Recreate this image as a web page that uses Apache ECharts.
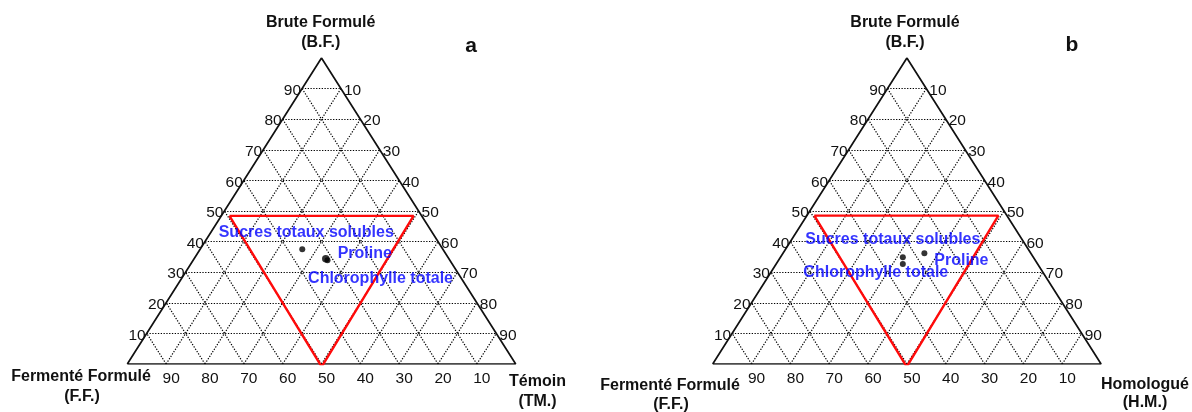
<!DOCTYPE html>
<html>
<head>
<meta charset="utf-8">
<script src="https://cdn.jsdelivr.net/npm/echarts@6/dist/echarts.min.js"></script>
<style>
  html, body { margin: 0; padding: 0; background: #fff; }
  #chart { width: 1192px; height: 412px; }
</style>
</head>
<body>
<div id="chart"></div>
<script>
// Ternary compositions are written as [F.F., B.F., third component] in percent.
const tickValues = [10, 20, 30, 40, 50, 60, 70, 80, 90];
const pointNames = ['Sucres totaux solubles', 'Proline', 'Chlorophylle totale'];

// Panel a: Fermenté Formulé / Brute Formulé / Témoin
const panelATitle = 'a';
const panelAAxes = { top: ['Brute Formulé', '(B.F.)'], left: ['Fermenté Formulé', '(F.F.)'], right: ['Témoin', '(TM.)'] };
const panelAPoints = [[36.2, 37.5, 26.3], [31.7, 34.4, 33.9], [31.5, 33.9, 34.6]];
const panelAZone = [[49.5, 48.4, 2.1], [2.1, 48.4, 49.5], [50.4, -0.9, 50.5]];

// Panel b: Fermenté Formulé / Brute Formulé / Homologué
const panelBTitle = 'b';
const panelBAxes = { top: ['Brute Formulé', '(B.F.)'], left: ['Fermenté Formulé', '(F.F.)'], right: ['Homologué', '(H.M.)'] };
const panelBPoints = [[33.6, 34.9, 31.5], [27.4, 36.2, 36.4], [34.7, 32.7, 32.6]];
const panelBZone = [[49.6, 48.5, 1.9], [2.2, 48.5, 49.3], [50.5, -0.9, 50.4]];

// ---- helpers --------------------------------------------------------------
const FONT = '"Liberation Sans", Arial, sans-serif';

// ternary [F, B, T] -> cartesian [x, y] in the unit frame of the grid
function toXY(c) {
  const s = c[0] + c[1] + c[2];
  const b = c[1] / s, t = c[2] / s;
  return [t + b / 2, b];
}

function gridSegments() {
  const segs = [];
  tickValues.forEach(k => {
    // constant B.F.
    segs.push([toXY([100 - k, k, 0]), toXY([0, k, 100 - k])]);
    // constant third component (parallel to the left edge)
    segs.push([toXY([100 - k, 0, k]), toXY([0, 100 - k, k])]);
    // constant F.F. (parallel to the right edge)
    segs.push([toXY([k, 0, 100 - k]), toXY([k, 100 - k, 0])]);
  });
  return segs.map(s => ({ coords: s }));
}

function tickLabels() {
  const out = [];
  tickValues.forEach(k => {
    out.push({ pos: toXY([100 - k, k, 0]), text: String(k), side: 'left' });   // B.F. along left edge
    out.push({ pos: toXY([0, 100 - k, k]), text: String(k), side: 'right' });  // third component along right edge
    out.push({ pos: toXY([k, 0, 100 - k]), text: String(k), side: 'base' });   // F.F. along the base
  });
  return out;
}

const labelOffsets = {
  a: { 'Sucres totaux solubles': [4, -17], 'Proline': [39, -5], 'Chlorophylle totale': [53, 18] },
  b: { 'Sucres totaux solubles': [-10, -18], 'Proline': [37, 7], 'Chlorophylle totale': [-27, 9] }
};
const dotSizes = { a: [6, 7.5, 6], b: [6, 6, 6] };

function panelSeries(idx, key, points, zone) {
  const ticks = tickLabels();
  const outline = [toXY([100, 0, 0]), toXY([0, 100, 0]), toXY([0, 0, 100]), toXY([100, 0, 0])];
  const zoneXY = zone.map(toXY);
  zoneXY.push(zoneXY[0]);
  return [
    {
      type: 'lines', coordinateSystem: 'cartesian2d', xAxisIndex: idx, yAxisIndex: idx,
      silent: true, z: 1,
      lineStyle: { color: '#000', width: 1.2, type: [1.3, 1.5], opacity: 1 },
      data: gridSegments()
    },
    {
      type: 'line', xAxisIndex: idx, yAxisIndex: idx, showSymbol: false, silent: true, z: 2,
      lineStyle: { color: '#111', width: 1.7 },
      data: outline
    },
    {
      type: 'line', xAxisIndex: idx, yAxisIndex: idx, showSymbol: false, silent: true, z: 3,
      lineStyle: { color: '#ff0a0a', width: 2.4 },
      data: zoneXY
    },
    {
      type: 'custom', xAxisIndex: idx, yAxisIndex: idx, silent: true, z: 4,
      data: ticks.map(t => t.pos),
      renderItem: function (params, api) {
        const t = ticks[params.dataIndex];
        const p = api.coord(t.pos);
        let x = p[0], y = p[1], align = 'center';
        if (t.side === 'left') { x -= 1; y += 2; align = 'right'; }
        else if (t.side === 'right') { x += 3; y += 2; align = 'left'; }
        else { x += 5; y += 15; }
        return {
          type: 'text', x: x, y: y,
          style: { text: t.text, fill: '#111', font: '15.5px ' + FONT, align: align, verticalAlign: 'middle' }
        };
      }
    },
    {
      type: 'scatter', xAxisIndex: idx, yAxisIndex: idx, z: 5,
      itemStyle: { color: '#000' },
      data: points.map((c, i) => ({
        name: pointNames[i],
        value: toXY(c),
        symbolSize: dotSizes[key][i],
        label: {
          show: true, position: 'inside', formatter: '{b}',
          offset: labelOffsets[key][pointNames[i]],
          color: '#0000ff', fontWeight: 'bold', fontSize: 16, fontFamily: FONT
        }
      }))
    }
  ];
}

function titleText(x, y, text, size, weight) {
  return {
    type: 'text', x: x, y: y,
    style: { text: text, fill: '#111', font: (weight || 'bold') + ' ' + size + 'px ' + FONT, align: 'center', verticalAlign: 'middle' }
  };
}

const chart = echarts.init(document.getElementById('chart'), null, { renderer: 'canvas' });

const axisCommon = { type: 'value', min: 0, max: 1, show: false };

chart.setOption({
  animation: false,
  backgroundColor: '#fff',
  grid: [
    { left: 127.3, top: 58, width: 388.4, height: 306 },
    { left: 712.7, top: 58, width: 388.4, height: 306 }
  ],
  xAxis: [Object.assign({ gridIndex: 0 }, axisCommon), Object.assign({ gridIndex: 1 }, axisCommon)],
  yAxis: [Object.assign({ gridIndex: 0 }, axisCommon), Object.assign({ gridIndex: 1 }, axisCommon)],
  series: [].concat(
    panelSeries(0, 'a', panelAPoints, panelAZone),
    panelSeries(1, 'b', panelBPoints, panelBZone)
  ),
  graphic: [
    titleText(320.7, 23, panelAAxes.top[0], 16),
    titleText(320.7, 43, panelAAxes.top[1], 16),
    titleText(81, 377, panelAAxes.left[0], 16),
    titleText(82, 397, panelAAxes.left[1], 16),
    titleText(537.5, 382, panelAAxes.right[0], 16),
    titleText(537.5, 402, panelAAxes.right[1], 16),
    titleText(471, 46, panelATitle, 21),

    titleText(905, 23, panelBAxes.top[0], 16),
    titleText(905, 43, panelBAxes.top[1], 16),
    titleText(670, 386, panelBAxes.left[0], 16),
    titleText(671, 405, panelBAxes.left[1], 16),
    titleText(1145, 385, panelBAxes.right[0], 16),
    titleText(1145, 403, panelBAxes.right[1], 16),
    titleText(1072, 45, panelBTitle, 21)
  ]
});
</script>
</body>
</html>
